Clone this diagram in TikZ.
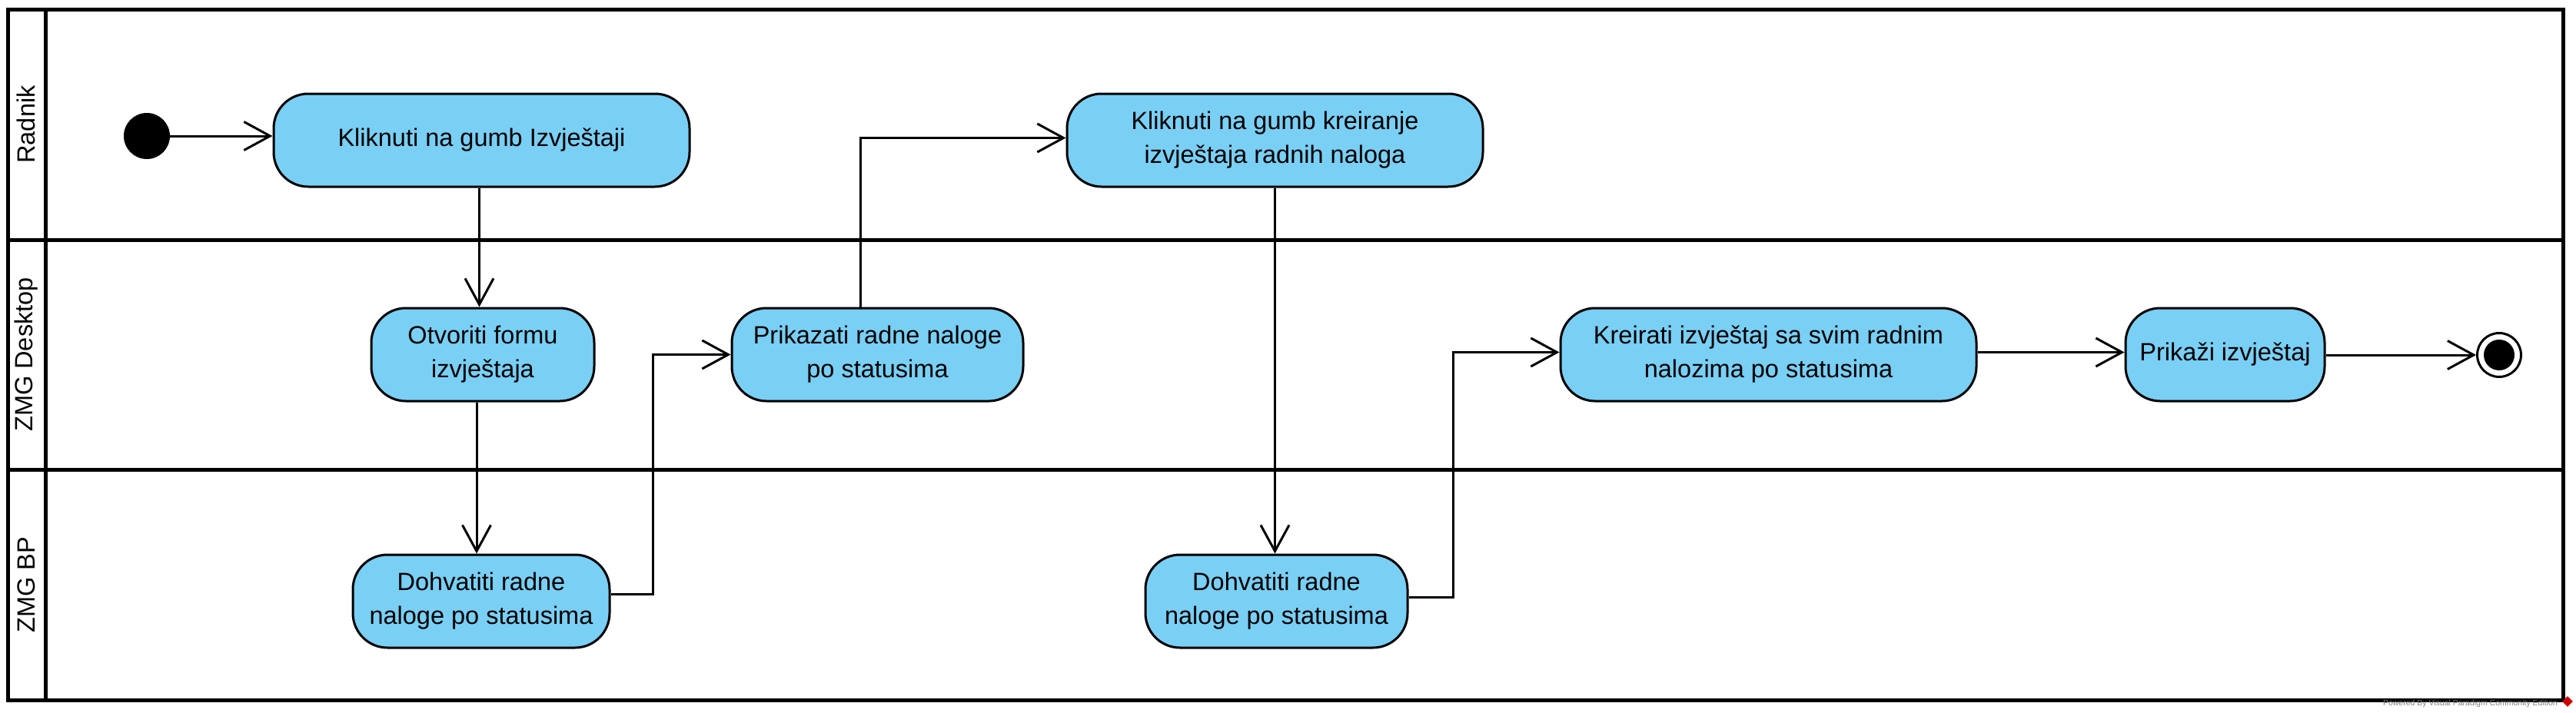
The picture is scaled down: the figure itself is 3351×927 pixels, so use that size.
\documentclass[tikz,border=0pt]{standalone}
\usepackage{fontspec}
\setmainfont{Liberation Sans}
\usetikzlibrary{arrows.meta,calc,shapes.geometric}
\definecolor{actfill}{RGB}{122,207,245}
\begin{document}
\begin{tikzpicture}[x=1pt,y=-1pt,
  act/.style={draw=black, line width=3pt, fill=actfill, rounded corners=45pt, inner sep=0pt, align=center, font=\fontsize{32.5}{44}\selectfont, minimum height=121pt},
  flow/.style={line width=3pt, -{Straight Barb[length=34pt,width=37pt]}},
  lane/.style={line width=5pt},
  lanelabel/.style={rotate=90, inner sep=0pt, font=\fontsize{32.5}{40}\selectfont}]
\useasboundingbox (0,0) rectangle (3351,927);
\fill[white] (0,0) rectangle (3351,927);
% swimlane frame
\draw[lane] (10,12) rectangle (3334,911);
\draw[lane] (10,312) -- (3334,312);
\draw[lane] (10,611) -- (3334,611);
\draw[lane] (59,12) -- (59,911);
\node[lanelabel] (lane1) at (34,162) {Radnik};
\node[lanelabel] (lane2) at (34,461.5) {ZMG Desktop};
\node[lanelabel] (lane3) at (34,761) {ZMG BP};
% nodes
\node[circle, fill=black, minimum size=60pt, inner sep=0pt] (start) at (191,177) {};
\node[act, minimum width=541pt] (n1) at (626.5,182.5) {Kliknuti na gumb Izvještaji};
\node[act, minimum width=290pt] (n2) at (628,461.5) {Otvoriti formu\\izvještaja};
\node[act, minimum width=379pt] (n3) at (1141.5,461.5) {Prikazati radne naloge\\po statusima};
\node[act, minimum width=334pt] (n4) at (626,782.5) {Dohvatiti radne\\naloge po statusima};
\node[act, minimum width=541pt] (n5) at (1658.5,182.5) {Kliknuti na gumb kreiranje\\izvještaja radnih naloga};
\node[act, minimum width=341pt] (n6) at (1660.5,782.5) {Dohvatiti radne\\naloge po statusima};
\node[act, minimum width=541pt] (n7) at (2300.5,461.5) {Kreirati izvještaj sa svim radnim\\nalozima po statusima};
\node[act, minimum width=259pt] (n8) at (2894.5,461.5) {Prikaži izvještaj};
\node[circle, draw=black, line width=3pt, fill=white, minimum size=57pt, inner sep=0pt] (end) at (3251,462) {};
\node[circle, fill=black, minimum size=40pt, inner sep=0pt] (endin) at (end) {};
% flows
\draw[flow] (start) -- (start -| n1.west);
\draw[flow] ($(n1.south)+(-3,0)$) -- ($(n1.south |- n2.north)+(-3,0)$);
\draw[flow] ($(n2.south)+(-8,0)$) -- ($(n2.south |- n4.north)+(-8,0)$);
\draw[flow] ($(n4.east)+(0,-9)$) -- ++(55,0) |- (n3.west);
\draw[flow] ($(n3.north)+(-22,0)$) |- ($(n5.west)+(0,-3)$);
\draw[flow] (n5.south) -- (n5.south |- n6.north);
\draw[flow] ($(n6.east)+(0,-5)$) -- ++(58,0) |- ($(n7.west)+(0,-3)$);
\draw[flow] ($(n7.east)+(0,-3)$) -- ($(n8.west)+(0,-3)$);
\draw[flow] (n8.east |- end) -- (end.west);
% watermark
\node[anchor=base east, text=gray, inner sep=0pt, font=\fontsize{10.5}{12}\selectfont] (wm) at (3327,918) {Powered By Visual Paradigm Community Edition};
\node[diamond, fill=red!80!black, minimum size=14pt, inner sep=0pt] (logo) at (3340,913) {};
\end{tikzpicture}
\end{document}
